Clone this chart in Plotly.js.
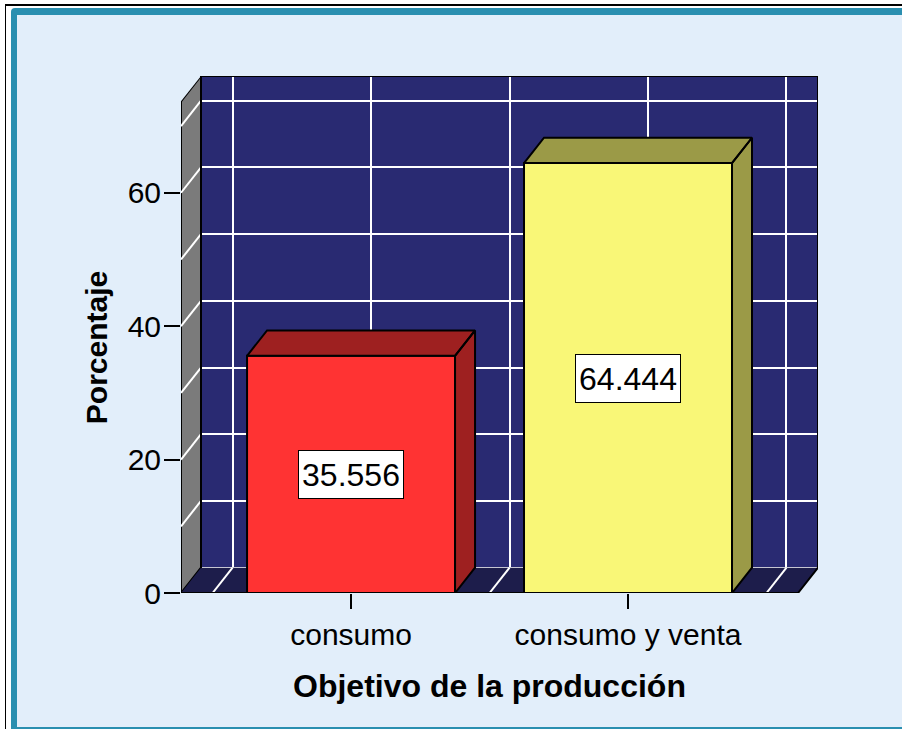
<!DOCTYPE html>
<html>
<head>
<meta charset="utf-8">
<script src="https://cdn.plot.ly/plotly-3.0.1.min.js"></script>
<style>
  html, body { margin: 0; padding: 0; background: #ffffff; overflow: hidden; }
  #wrap { position: relative; width: 902px; height: 729px; overflow: hidden; }
  .frame { position: absolute; }
  #f1 { left: 5px; top: 4px; width: 960px; height: 800px; border-left: 1px solid #000; border-top: 2px solid #000; }
  #f2 { left: 11px; top: 8px; width: 960px; height: 800px; background: #2a8fb0; border-radius: 4px 0 0 0; }
  #f3 { left: 17px; top: 15px; width: 960px; height: 712px; background: #e2eefa; }
  #chart { position: absolute; left: 0; top: 0; width: 902px; height: 729px; }
</style>
</head>
<body>
<div id="wrap">
  <div class="frame" id="f1"></div>
  <div class="frame" id="f2"></div>
  <div class="frame" id="f3"></div>
  <div id="chart"></div>
</div>
<script>
// data
var categories = ['consumo', 'consumo y venta'];
var percentages = [35.556, 64.444];
var yTickValues = [0, 20, 40, 60];

var barColors = ['#ff3333', '#f9f777'];
var barShadeColors = ['#9e2020', '#9b9a47'];

// 3d box geometry (data units)
var X_MIN = -0.614, X_MAX = 1.686;
var Y_MAX = 77.5, FRONT_TOP = 73.7;
var DX = 0.0722, DY = 3.8;
var BAR_W = 0.751;
var GRID_X = 0.5, GRID_Y = 10;

// plot area in pixels
var PL = 181, PR = 818, PT = 76, PB = 593;
var px = function (x) { return (x - PL) / (PR - PL); };
var py = function (y) { return (PB - y) / (PB - PT); };

var font = '"Liberation Sans", Arial, sans-serif';
var bgBlue = '#e2eefa';

var path = function (pts) {
    return 'M' + pts.map(function (p) { return p[0] + ',' + p[1]; }).join('L') + 'Z';
};
var line = function (pts) {
    return 'M' + pts.map(function (p) { return p[0] + ',' + p[1]; }).join('L');
};

var xIdx = categories.map(function (c, i) { return i; });

var data = [{
    // holds the back wall grid axes
    type: 'scatter',
    x: [],
    y: [],
    xaxis: 'x2',
    yaxis: 'y2',
    hoverinfo: 'skip'
}, {
    type: 'bar',
    x: xIdx,
    y: percentages,
    width: BAR_W,
    marker: { color: barColors, line: { color: '#000', width: 2 } },
    hoverinfo: 'skip'
}];

// top and side faces of each bar
percentages.forEach(function (v, i) {
    var x0 = i - BAR_W / 2, x1 = i + BAR_W / 2;
    data.push({
        type: 'scatter',
        mode: 'lines',
        x: [x0, x1, x1 + DX, x0 + DX, x0, null, x1, x1 + DX, x1 + DX, x1, x1],
        y: [v, v, v + DY, v + DY, v, null, 0, DY, v + DY, v, 0],
        fill: 'toself',
        fillcolor: barShadeColors[i],
        line: { color: '#000', width: 2 },
        hoverinfo: 'skip'
    });
});

var shapes = [
    // left wall
    { type: 'path', xref: 'x', yref: 'y', layer: 'between',
      path: path([[X_MIN, 0], [X_MIN, FRONT_TOP], [X_MIN + DX, Y_MAX], [X_MIN + DX, DY]]),
      fillcolor: '#7b7b7b', line: { color: '#000', width: 2 } },
    // floor
    { type: 'path', xref: 'x', yref: 'y', layer: 'between',
      path: path([[X_MIN, 0], [X_MIN + DX, DY], [X_MAX, DY], [X_MAX - DX, 0]]),
      fillcolor: '#1d1d4b', line: { width: 0 } },
    // corners outside the box
    { type: 'path', xref: 'x', yref: 'y', layer: 'between',
      path: path([[X_MIN, FRONT_TOP], [X_MIN, Y_MAX], [X_MIN + DX, Y_MAX]]),
      fillcolor: bgBlue, line: { width: 0 } },
    { type: 'path', xref: 'x', yref: 'y', layer: 'between',
      path: path([[X_MAX - DX, 0], [X_MAX, 0], [X_MAX, DY]]),
      fillcolor: bgBlue, line: { width: 0 } }
];

// diagonals on the left wall and on the floor
for (var g = GRID_Y; g < FRONT_TOP; g += GRID_Y) {
    shapes.push({ type: 'path', xref: 'x', yref: 'y', layer: 'between',
        path: line([[X_MIN, g], [X_MIN + DX, g + DY]]),
        line: { color: '#ffffff', width: 2 } });
}
for (var gx = -GRID_X; gx < X_MAX - DX; gx += GRID_X) {
    shapes.push({ type: 'path', xref: 'x', yref: 'y', layer: 'between',
        path: line([[gx, 0], [gx + DX, DY]]),
        line: { color: '#ffffff', width: 2 } });
}

// box outlines
shapes.push({ type: 'path', xref: 'x', yref: 'y', layer: 'between',
    path: line([[X_MIN + DX, DY], [X_MIN + DX, Y_MAX], [X_MAX, Y_MAX], [X_MAX, DY], [X_MAX - DX, 0], [X_MIN, 0]]),
    line: { color: '#000', width: 2 } });

var annotations = percentages.map(function (v, i) {
    return {
        x: i, y: v / 2, xref: 'x', yref: 'y',
        xanchor: 'center', yanchor: 'middle',
        text: v.toFixed(3),
        showarrow: false,
        width: 104,
        height: 47,
        bgcolor: '#ffffff',
        bordercolor: '#000',
        borderwidth: 1,
        borderpad: 0,
        font: { family: font, size: 32, color: '#000' }
    };
});

annotations.push({
    text: 'Porcentaje',
    xref: 'paper', yref: 'y',
    x: px(96), y: FRONT_TOP / 2,
    xanchor: 'center', yanchor: 'middle',
    textangle: -90,
    showarrow: false,
    font: { family: font, size: 30, color: '#000', weight: 'bold' }
});
annotations.push({
    text: 'Objetivo de la producción',
    xref: 'x', yref: 'paper',
    x: 0.5, y: py(686),
    xanchor: 'center', yanchor: 'middle',
    showarrow: false,
    font: { family: font, size: 32, color: '#000', weight: 'bold' }
});

var layout = {
    width: 902,
    height: 729,
    margin: { l: PL, r: 902 - PR, t: PT, b: 729 - PB },
    paper_bgcolor: 'rgba(0,0,0,0)',
    plot_bgcolor: '#292a72',
    showlegend: false,
    bargap: 0,
    font: { family: font, color: '#000' },
    xaxis: {
        range: [X_MIN, X_MAX],
        tickvals: xIdx,
        ticktext: categories,
        ticks: 'outside',
        ticklen: 15,
        tickwidth: 2,
        tickcolor: '#000',
        tickfont: { size: 30 },
        showgrid: false,
        zeroline: false,
        showline: false,
        fixedrange: true
    },
    yaxis: {
        range: [0, Y_MAX],
        tickvals: yTickValues,
        ticks: 'outside',
        ticklen: 16,
        tickwidth: 2,
        tickcolor: '#000',
        tickfont: { size: 30 },
        ticklabelstandoff: -3,
        showgrid: false,
        zeroline: false,
        showline: false,
        fixedrange: true
    },
    // grid of the back wall, set back by the depth of the box
    xaxis2: {
        overlaying: 'x',
        anchor: 'y2',
        range: [X_MIN - DX, X_MAX - DX],
        tick0: 0,
        dtick: GRID_X,
        showgrid: true,
        gridcolor: '#ffffff',
        gridwidth: 2,
        zeroline: false,
        showticklabels: false,
        ticks: '',
        fixedrange: true
    },
    yaxis2: {
        overlaying: 'y',
        anchor: 'x2',
        range: [-DY, Y_MAX - DY],
        tick0: 0,
        dtick: GRID_Y,
        showgrid: true,
        gridcolor: '#ffffff',
        gridwidth: 2,
        zeroline: false,
        showticklabels: false,
        ticks: '',
        fixedrange: true
    },
    shapes: shapes,
    annotations: annotations
};

Plotly.newPlot('chart', data, layout, { staticPlot: true });
</script>
</body>
</html>
